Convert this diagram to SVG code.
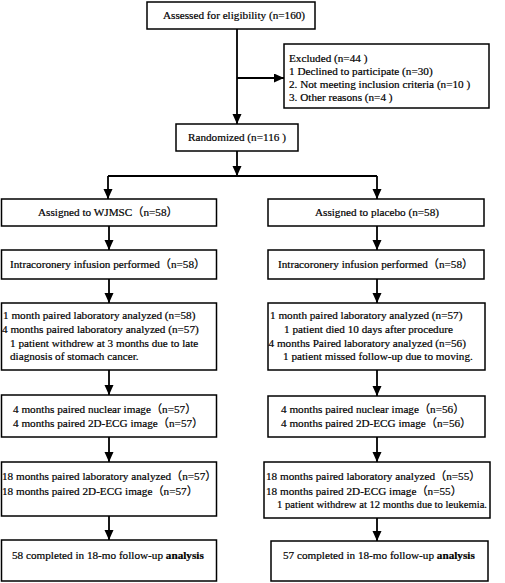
<svg xmlns="http://www.w3.org/2000/svg" width="505" height="583" viewBox="0 0 505 583">
<style>
.box{fill:#fff;stroke:#000;stroke-width:1.5}
text{font-family:"Liberation Serif","Times New Roman","Noto Sans CJK SC",serif;font-size:11.2px;fill:#000;stroke:#000;stroke-width:0.2}
.c{text-anchor:middle}
.ln{stroke:#000;stroke-width:1.8;fill:none}
</style>
<defs>
<marker id="ah" markerUnits="userSpaceOnUse" markerWidth="10" markerHeight="10" refX="10" refY="4.5" orient="auto">
<path d="M0,0 L10,4.5 L0,9 z" fill="#000"/>
</marker>
</defs>
<rect width="505" height="583" fill="#fff"/>
<g id="connectors">
<path class="ln" d="M237,29 V124" marker-end="url(#ah)"/>
<path class="ln" d="M237,78 H284" marker-end="url(#ah)"/>
<path class="ln" d="M237,151 V176" marker-end="url(#ah)"/>
<path class="ln" d="M108,176 H377"/>
<path class="ln" d="M108,176 V199" marker-end="url(#ah)"/>
<path class="ln" d="M377,176 V199" marker-end="url(#ah)"/>
<path class="ln" d="M109,226 V250" marker-end="url(#ah)"/>
<path class="ln" d="M109,279 V303" marker-end="url(#ah)"/>
<path class="ln" d="M109,370 V395" marker-end="url(#ah)"/>
<path class="ln" d="M109,437 V462" marker-end="url(#ah)"/>
<path class="ln" d="M109,516 V540" marker-end="url(#ah)"/>
<path class="ln" d="M377,226 V250" marker-end="url(#ah)"/>
<path class="ln" d="M377,279 V303" marker-end="url(#ah)"/>
<path class="ln" d="M377,370 V396" marker-end="url(#ah)"/>
<path class="ln" d="M377,437 V462" marker-end="url(#ah)"/>
<path class="ln" d="M377,518 V541" marker-end="url(#ah)"/>
</g>
<g id="assessed">
<rect class="box" x="147" y="2" width="168" height="27"/>
<text x="163" y="19">Assessed for eligibility (n=160)</text>
</g>
<g id="excluded">
<rect class="box" x="284" y="44" width="205" height="64"/>
<text x="289" y="62">Excluded (n=44 )</text>
<text x="289" y="75">1 Declined to participate (n=30)</text>
<text x="289" y="88">2. Not meeting inclusion criteria (n=10 )</text>
<text x="289" y="101">3. Other reasons (n=4 )</text>
</g>
<g id="randomized">
<rect class="box" x="176" y="124" width="122" height="27"/>
<text x="188" y="141">Randomized (n=116 )</text>
</g>
<g id="assigned-wjmsc">
<rect class="box" x="1.5" y="199" width="215" height="27"/>
<text x="38" y="216">Assigned to WJMSC（n=58）</text>
</g>
<g id="assigned-placebo">
<rect class="box" x="268" y="199" width="216" height="27"/>
<text x="377" y="216" class="c">Assigned to placebo (n=58)</text>
</g>
<g id="infusion-left">
<rect class="box" x="1.5" y="250" width="215" height="29"/>
<text x="10" y="268">Intracoronery infusion performed（n=58）</text>
</g>
<g id="infusion-right">
<rect class="box" x="268" y="250" width="216" height="29"/>
<text x="278" y="268">Intracoronery infusion performed（n=58）</text>
</g>
<g id="month1-left">
<rect class="box" x="1.5" y="303" width="215" height="67"/>
<text x="3" y="319">1 month paired laboratory analyzed (n=58)</text>
<text x="2" y="333">4 months paired laboratory analyzed (n=57)</text>
<text x="10" y="347">1 patient withdrew at 3 months due to late</text>
<text x="10" y="360">diagnosis of stomach cancer.</text>
</g>
<g id="month1-right">
<rect class="box" x="268" y="303" width="217" height="67"/>
<text x="270" y="319">1 month paired laboratory analyzed (n=57)</text>
<text x="284" y="333">1 patient died 10 days after procedure</text>
<text x="268.5" y="347">4 months Paired laboratory analyzed (n=56)</text>
<text x="283" y="360">1 patient missed follow-up due to moving.</text>
</g>
<g id="month4-left">
<rect class="box" x="1.5" y="395" width="215" height="42"/>
<text x="13" y="413">4 months paired nuclear image（n=57）</text>
<text x="13" y="427">4 months paired 2D-ECG image（n=57）</text>
</g>
<g id="month4-right">
<rect class="box" x="268" y="396" width="217" height="41"/>
<text x="281" y="413">4 months paired nuclear image（n=56）</text>
<text x="281" y="427">4 months paired 2D-ECG image（n=56）</text>
</g>
<g id="month18-left">
<rect class="box" x="1.5" y="462" width="215" height="54"/>
<text x="2" y="480">18 months paired laboratory analyzed（n=57）</text>
<text x="2" y="495">18 months paired 2D-ECG image（n=57）</text>
</g>
<g id="month18-right">
<rect class="box" x="264" y="462" width="226" height="56"/>
<text x="266" y="480">18 months paired laboratory analyzed（n=55）</text>
<text x="266" y="495">18 months paired 2D-ECG image（n=55）</text>
<text x="277" y="508" textLength="210" lengthAdjust="spacingAndGlyphs">1 patient withdrew at 12 months due to leukemia.</text>
</g>
<g id="completed-left">
<rect class="box" x="1.5" y="540" width="215" height="41"/>
<text x="12" y="559">58 completed in 18-mo follow-up <tspan font-weight="bold">analysis</tspan></text>
</g>
<g id="completed-right">
<rect class="box" x="271" y="541" width="217" height="40"/>
<text x="283" y="559">57 completed in 18-mo follow-up <tspan font-weight="bold">analysis</tspan></text>
</g>
</svg>
